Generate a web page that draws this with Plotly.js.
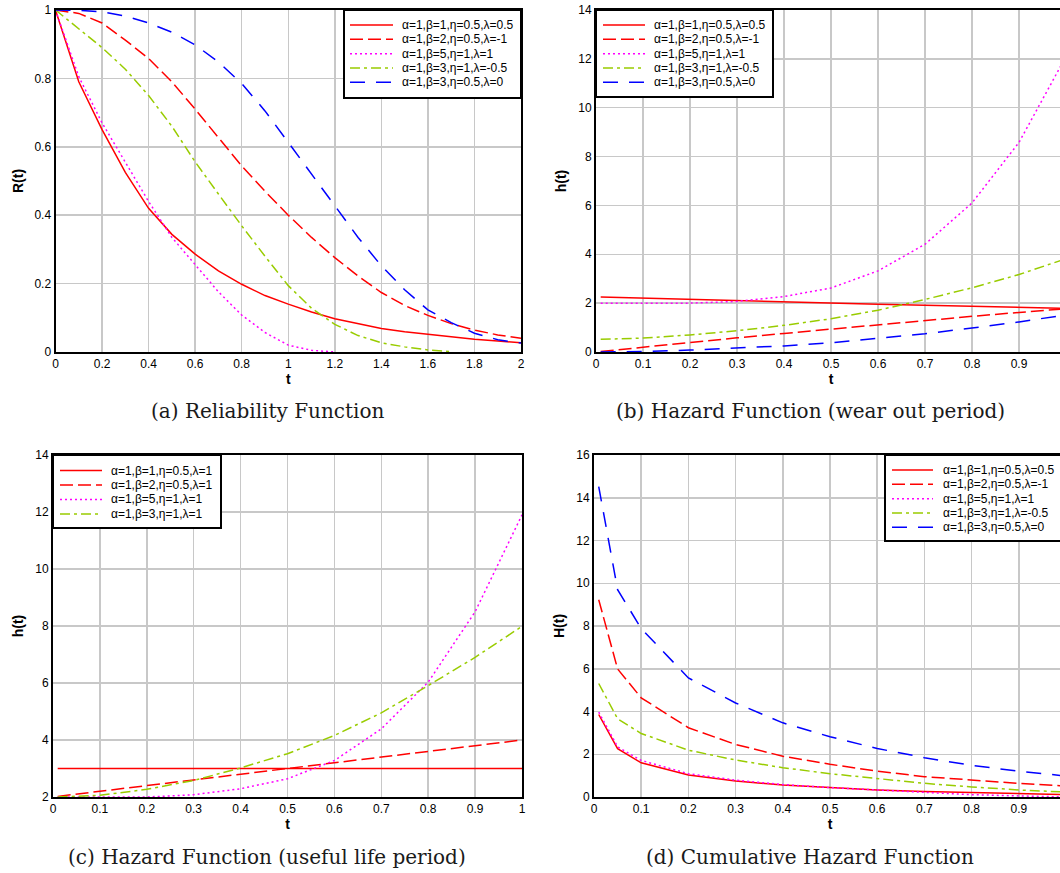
<!DOCTYPE html>
<html><head><meta charset="utf-8">
<script src="https://cdn.plot.ly/plotly-3.0.1.min.js"></script>
<style>html,body{margin:0;padding:0;overflow:hidden;background:#fff;width:1060px;height:873px}</style>
</head><body><div id="chart" style="width:1080px;height:873px"></div>
<script>
// ---------- DATA ----------
// (a) Reliability function
const tA = [0,0.1,0.2,0.3,0.4,0.5,0.6,0.7,0.8,0.9,1.0,1.1,1.2,1.3,1.4,1.5,1.6,1.7,1.8,1.9,2.0];
const aS1 = [1,0.79,0.65,0.525,0.42,0.344,0.286,0.237,0.198,0.165,0.14,0.117,0.097,0.082,0.069,0.059,0.051,0.044,0.037,0.032,0.027];
const aS2 = [1,0.99,0.962,0.912,0.858,0.79,0.71,0.628,0.544,0.47,0.40,0.335,0.276,0.222,0.174,0.136,0.107,0.083,0.064,0.05,0.04];
const tA3 = [0,0.1,0.2,0.3,0.4,0.5,0.6,0.7,0.8,0.9,1.0,1.1,1.2];
const aS3 = [1,0.805,0.67,0.555,0.44,0.335,0.255,0.176,0.108,0.057,0.02,0.005,0];
const tA4 = [0,0.1,0.2,0.3,0.4,0.5,0.6,0.7,0.8,0.9,1.0,1.1,1.2,1.3,1.4,1.5,1.6,1.7];
const aS4 = [1,0.945,0.89,0.827,0.75,0.66,0.556,0.462,0.369,0.28,0.194,0.128,0.081,0.048,0.027,0.015,0.006,0.001];
const aS5 = [1,0.999,0.995,0.982,0.962,0.935,0.898,0.848,0.785,0.705,0.613,0.52,0.427,0.335,0.252,0.182,0.123,0.086,0.055,0.036,0.026];

// (b) Hazard function, wear out period
const tB = [0.01,0.1,0.2,0.3,0.4,0.5,0.6,0.7,0.8,0.9,1.0];
const bS1 = [2.25,2.20,2.15,2.10,2.05,2.0,1.95,1.91,1.87,1.83,1.79];
const bS2 = [0.02,0.2,0.39,0.58,0.76,0.94,1.12,1.29,1.46,1.62,1.77];
const bS3 = [2.0,2.0,2.0,2.07,2.27,2.62,3.32,4.41,6.1,8.58,12.1];
const bS4 = [0.52,0.57,0.7,0.87,1.09,1.36,1.71,2.15,2.63,3.17,3.82];
const bS5 = [0.0,0.02,0.08,0.15,0.25,0.38,0.55,0.75,0.98,1.23,1.52];

// (c) Hazard function, useful life period
const tC = [0.01,0.1,0.2,0.3,0.4,0.5,0.6,0.7,0.8,0.9,1.0];
const cS1 = [3,3,3,3,3,3,3,3,3,3,3];
const cS2 = [2.02,2.2,2.4,2.6,2.8,3.0,3.2,3.4,3.6,3.8,4.0];
const cS3 = [2.0,2.0,2.0,2.08,2.29,2.64,3.28,4.39,6.03,8.5,11.9];
const cS4 = [2.0,2.06,2.27,2.58,3.02,3.52,4.16,4.95,5.91,6.9,7.99];

// (d) Cumulative hazard function
const tD = [0.01,0.05,0.1,0.2,0.3,0.4,0.5,0.6,0.7,0.8,0.9,1.0];
const dS1 = [3.86,2.26,1.6,1.03,0.75,0.56,0.44,0.33,0.26,0.2,0.16,0.11];
const dS2 = [9.23,5.99,4.64,3.24,2.46,1.91,1.53,1.21,0.95,0.78,0.64,0.51];
const dS3 = [3.97,2.35,1.71,1.09,0.79,0.58,0.44,0.33,0.2,0.11,0.05,0.0];
const dS4 = [5.31,3.66,2.97,2.19,1.73,1.37,1.09,0.86,0.64,0.47,0.33,0.23];
const dS5 = [14.52,9.7,7.88,5.57,4.4,3.47,2.82,2.27,1.84,1.48,1.21,0.98];

// tick values
const ticksA_x = [0,0.2,0.4,0.6,0.8,1,1.2,1.4,1.6,1.8,2];
const ticksA_y = [0,0.2,0.4,0.6,0.8,1];
const ticksT10 = [0,0.1,0.2,0.3,0.4,0.5,0.6,0.7,0.8,0.9,1];
const ticksT9 = [0,0.1,0.2,0.3,0.4,0.5,0.6,0.7,0.8,0.9];
const ticksB_y = [0,2,4,6,8,10,12,14];
const ticksC_y = [2,4,6,8,10,12,14];
const ticksD_y = [0,2,4,6,8,10,12,14,16];

const labelsMain = ['α=1,β=1,η=0.5,λ=0.5','α=1,β=2,η=0.5,λ=-1','α=1,β=5,η=1,λ=1','α=1,β=3,η=1,λ=-0.5','α=1,β=3,η=0.5,λ=0'];
const labelsC = ['α=1,β=1,η=0.5,λ=1','α=1,β=2,η=0.5,λ=1','α=1,β=5,η=1,λ=1','α=1,β=3,η=1,λ=1'];
const captions = ['(a) Reliability Function','(b) Hazard Function (wear out period)','(c) Hazard Function (useful life period)','(d) Cumulative Hazard Function'];
const yTitles = ['R(t)','h(t)','h(t)','H(t)'];

// ---------- STYLE ----------
const W = 1080, H = 873;
const px = x => x / W;
const py = y => 1 - y / H;
const STY = [
  {color:'#ff0000', dash:'solid'},
  {color:'#ff0000', dash:'13px,5px'},
  {color:'#ff00ff', dash:'2px,3px'},
  {color:'#99cc00', dash:'10px,4px,3px,4px'},
  {color:'#0000ff', dash:'15px,11px'}
];
const SANS = 'Liberation Sans, Arial, sans-serif';

const panels = [
  {xa:'x', ya:'y', series:[[tA,aS1],[tA,aS2],[tA3,aS3],[tA4,aS4],[tA,aS5]]},
  {xa:'x2', ya:'y2', series:[[tB,bS1],[tB,bS2],[tB,bS3],[tB,bS4],[tB,bS5]]},
  {xa:'x3', ya:'y3', series:[[tC,cS1],[tC,cS2],[tC,cS3],[tC,cS4]]},
  {xa:'x4', ya:'y4', series:[[tD,dS1],[tD,dS2],[tD,dS3],[tD,dS4],[tD,dS5]]}
];

const traces = [];
panels.forEach(p => {
  p.series.forEach((s, i) => {
    traces.push({x:s[0], y:s[1], xaxis:p.xa, yaxis:p.ya, type:'scatter', mode:'lines',
      line:{color:STY[i].color, width:1.5, dash:STY[i].dash}, showlegend:false, hoverinfo:'skip'});
  });
});

function axis(dom, range, tickvals, title, standoff) {
  return {
    domain: dom, range: range, tickmode:'array', tickvals: tickvals, autorange:false,
    showgrid:true, gridcolor:'#c8c8c8', gridwidth:1.5, zeroline:false,
    showline:true, mirror:true, linecolor:'#000', linewidth:2, ticks:'',
    tickfont:{family:SANS, size:12, color:'#000'},
    title:{text:title, font:{family:SANS, size:14, color:'#000', weight:'bold'}, standoff:standoff},
    fixedrange:true
  };
}

const yTopDom = [py(352), py(10)], yBotDom = [py(797), py(455)];
const layout = {
  width: W, height: H, margin:{l:0,r:0,t:0,b:0}, paper_bgcolor:'#fff', plot_bgcolor:'#fff',
  showlegend:false,
  xaxis:  Object.assign(axis([px(55.5),px(521)],[0,2],ticksA_x,'t',3), {anchor:'y'}),
  yaxis:  Object.assign(axis(yTopDom,[0,1],ticksA_y,yTitles[0],8), {anchor:'x'}),
  xaxis2: Object.assign(axis([px(596),px(1066)],[0,1],ticksT9,'t',3), {anchor:'y2'}),
  yaxis2: Object.assign(axis(yTopDom,[0,14],ticksB_y,yTitles[1],8), {anchor:'x2'}),
  xaxis3: Object.assign(axis([px(53),px(522)],[0,1],ticksT10,'t',3), {anchor:'y3'}),
  yaxis3: Object.assign(axis(yBotDom,[2,14],ticksC_y,yTitles[2],8), {anchor:'x3'}),
  xaxis4: Object.assign(axis([px(594),px(1066)],[0,1],ticksT9,'t',3), {anchor:'y4'}),
  yaxis4: Object.assign(axis(yBotDom,[0,16],ticksD_y,yTitles[3],8), {anchor:'x4'}),
  shapes: [], annotations: []
};

// custom compact legends (box, line samples, labels)
const legends = [
  {box:[344,10,521,98], line:[350,393], tx:400, rows:[25,39.3,53.7,68,82.3], labels:labelsMain},
  {box:[596,10,773,97], line:[603,645], tx:652, rows:[25,39.3,53.7,68,82.3], labels:labelsMain},
  {box:[53,455,221,528], line:[60,102], tx:109, rows:[470.5,485,499.5,514], labels:labelsC},
  {box:[885,455,1066,541], line:[892,933], tx:941, rows:[470,484.3,498.7,513,527.3], labels:labelsMain}
];
legends.forEach(L => {
  layout.shapes.push({type:'rect', xref:'paper', yref:'paper', x0:px(L.box[0]), x1:px(L.box[2]), y0:py(L.box[3]), y1:py(L.box[1]),
    line:{color:'#000', width:2}, fillcolor:'#fff', layer:'above'});
  L.labels.forEach((lab, i) => {
    layout.shapes.push({type:'line', xref:'paper', yref:'paper', x0:px(L.line[0]), x1:px(L.line[1]), y0:py(L.rows[i]), y1:py(L.rows[i]),
      line:{color:STY[i].color, width:1.5, dash:STY[i].dash}, layer:'above'});
    layout.annotations.push({xref:'paper', yref:'paper', x:px(L.tx), y:py(L.rows[i]), xanchor:'left', yanchor:'middle',
      text:lab, showarrow:false, font:{family:SANS, size:12, color:'#000'}});
  });
});

// captions
const capPos = [[267,411],[810,411],[267,857],[810,857]];
captions.forEach((c, i) => {
  layout.annotations.push({xref:'paper', yref:'paper', x:px(capPos[i][0]), y:py(capPos[i][1]), xanchor:'center', yanchor:'middle',
    text:c, showarrow:false, font:{family:'DejaVu Serif, serif', size:20, color:'#1a1a1a'}});
});

Plotly.newPlot('chart', traces, layout, {staticPlot:true, displayModeBar:false});
</script></body></html>
